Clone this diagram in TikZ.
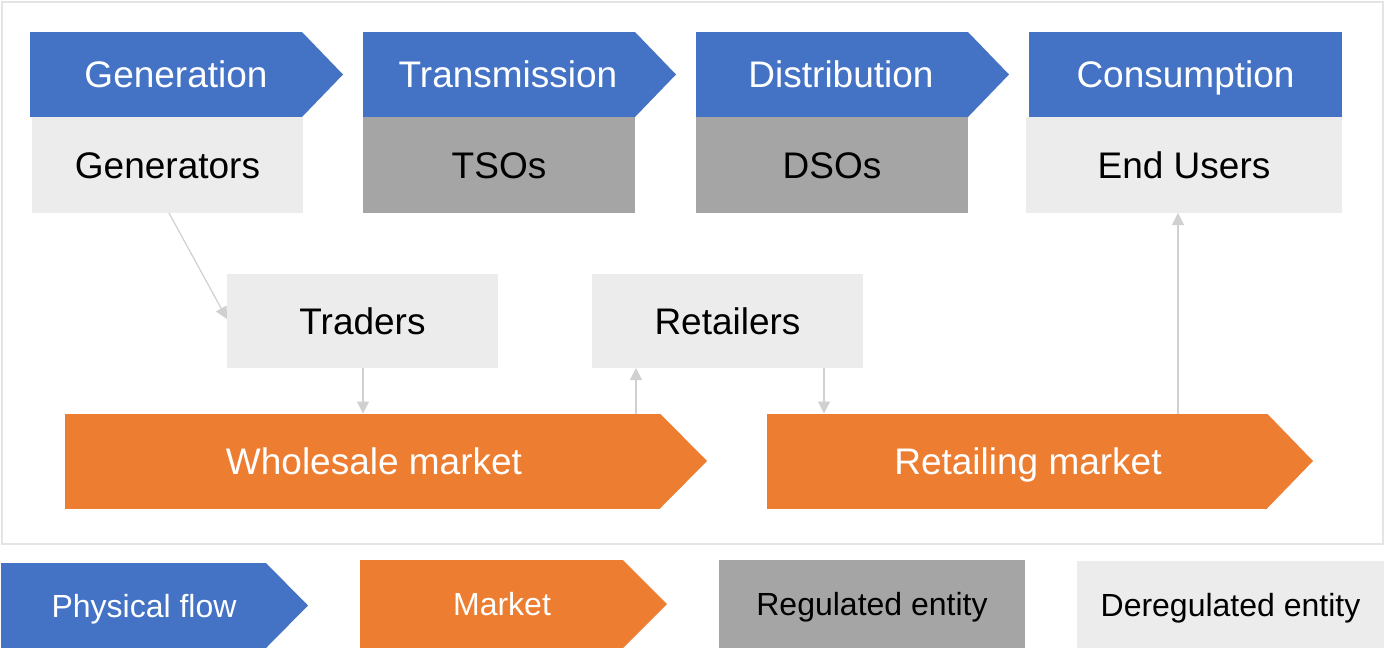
\documentclass[tikz,border=0pt]{standalone}
\usepackage{fontspec}
\setmainfont{Liberation Sans}
\usetikzlibrary{arrows.meta}
\definecolor{flowblue}{HTML}{4472C4}
\definecolor{mktorange}{HTML}{ED7D31}
\definecolor{reggray}{HTML}{A5A5A5}
\definecolor{dereggray}{HTML}{ECECEC}
\definecolor{linkgray}{HTML}{D0D0D0}
\definecolor{framegray}{HTML}{E4E4E4}
\tikzset{
  blk/.style={inner sep=0pt, outer sep=0pt, text height=13.4pt, text depth=0pt, font=\fontsize{18.5pt}{22pt}\selectfont},
  flowbox/.style={blk, fill=flowblue, text=white},
  mktbox/.style={blk, fill=mktorange, text=white},
  regbox/.style={blk, fill=reggray, text=black},
  deregbox/.style={blk, fill=dereggray, text=black},
  legend/.style={text height=11.6pt, font=\fontsize{16pt}{19pt}\selectfont},
  link/.style={draw=linkgray, line width=0.6pt, -{Triangle[length=6pt,width=6pt]}},
}
\begin{document}
\begin{tikzpicture}[x=0.5pt,y=-0.5pt]
\useasboundingbox (0,0) rectangle (1386,650);
\draw[framegray, line width=1pt] (2,2) rectangle (1383,544);

% Physical flow row
\node[flowbox, minimum width=136pt, minimum height=42.5pt] (gen) at (166,74.5) {\hspace*{10pt}Generation};
\fill[flowblue] (gen.north east) -- ++(41,42.5) -- (gen.south east) -- cycle;
\node[flowbox, minimum width=136pt, minimum height=42.5pt] (tra) at (499,74.5) {\hspace*{9pt}Transmission};
\fill[flowblue] (tra.north east) -- ++(41,42.5) -- (tra.south east) -- cycle;
\node[flowbox, minimum width=136pt, minimum height=42.5pt] (dis) at (832,74.5) {\hspace*{9pt}Distribution};
\fill[flowblue] (dis.north east) -- ++(41,42.5) -- (dis.south east) -- cycle;
\node[flowbox, minimum width=156.5pt, minimum height=42.5pt] (con) at (1185.5,74.5) {Consumption};

% Entities
\node[deregbox, minimum width=135.5pt, minimum height=48pt] (gens) at (167.5,165) {Generators};
\node[regbox, minimum width=136pt, minimum height=48pt] (tsos) at (499,165) {TSOs};
\node[regbox, minimum width=136pt, minimum height=48pt] (dsos) at (832,165) {DSOs};
\node[deregbox, minimum width=158pt, minimum height=48pt] (users) at (1184,165) {End Users};
\node[deregbox, minimum width=135.5pt, minimum height=47pt] (traders) at (362.5,321) {Traders};
\node[deregbox, minimum width=135.5pt, minimum height=47pt] (retailers) at (727.5,321) {Retailers};

% Markets
\node[mktbox, minimum width=297.5pt, minimum height=47.5pt] (whole) at (362.5,461) {\hspace*{11.5pt}Wholesale market};
\fill[mktorange] (whole.north east) -- ++(47,47.5) -- (whole.south east) -- cycle;
\node[mktbox, minimum width=250pt, minimum height=47.5pt] (retail) at (1017,461) {\hspace*{11pt}Retailing market};
\fill[mktorange] (retail.north east) -- ++(46,47.5) -- (retail.south east) -- cycle;

% Connectors
\draw[link] (gens.south west) ++(137,0) coordinate (g1) -- (traders.west |- 0,319);
\draw[link] (traders.south -| 363,0) -- (whole.north -| 363,0);
\draw[link] (whole.north -| 636,0) -- (retailers.south -| 636,0);
\draw[link] (retailers.south -| 824,0) -- (retail.north -| 824,0);
\draw[link] (retail.north -| 1178,0) -- (users.south -| 1178,0);

% Legend
\node[flowbox, legend, minimum width=132.5pt, minimum height=42.5pt] (lflow) at (133.5,605.5) {\hspace*{10.5pt}Physical flow};
\fill[flowblue] (lflow.north east) -- ++(42,42.5) -- (lflow.south east) -- cycle;
\node[mktbox, legend, minimum width=131.5pt, minimum height=44pt] (lmkt) at (491.5,604) {\hspace*{10.5pt}Market};
\fill[mktorange] (lmkt.north east) -- ++(44,44) -- (lmkt.south east) -- cycle;
\node[regbox, legend, minimum width=153pt, minimum height=44pt] (lreg) at (872,604) {Regulated entity};
\node[deregbox, legend, minimum width=153.5pt, minimum height=43.5pt] (lder) at (1230.5,604.5) {Deregulated entity};
\end{tikzpicture}
\end{document}
